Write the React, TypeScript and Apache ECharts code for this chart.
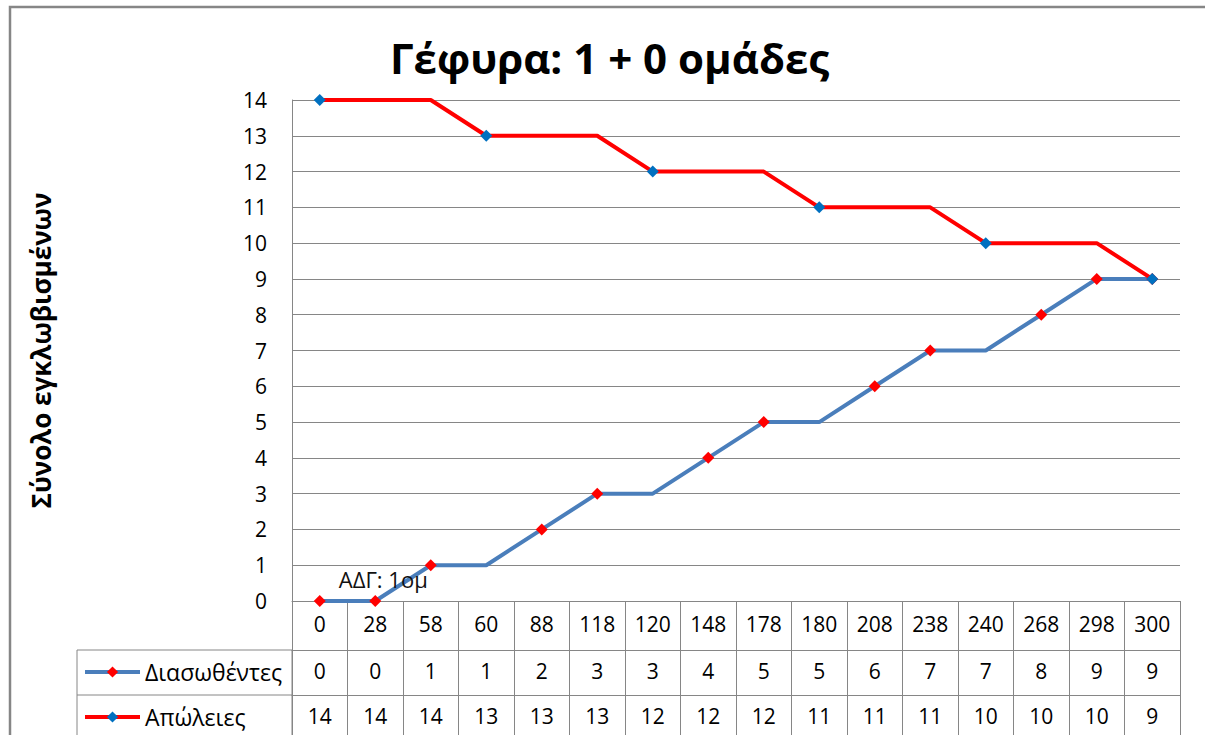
import React, { useEffect, useRef } from "react";
import * as echarts from "echarts";

const titleText = "Γέφυρα: 1 + 0 ομάδες";
const yAxisTitle = "Σύνολο εγκλωβισμένων";
const timeLabels = ["0", "28", "58", "60", "88", "118", "120", "148", "178", "180", "208", "238", "240", "268", "298", "300"];
const rescuedName = "Διασωθέντες";
const lossesName = "Απώλειες";
const rescued = [0, 0, 1, 1, 2, 3, 3, 4, 5, 5, 6, 7, 7, 8, 9, 9];
const losses = [14, 14, 14, 13, 13, 13, 12, 12, 12, 11, 11, 11, 10, 10, 10, 9];
// indices of points that carry a marker in the original
const rescuedMarked = [0, 1, 2, 4, 5, 7, 8, 10, 11, 13, 14, 15];
const lossesMarked = [0, 3, 6, 9, 12, 15];
const annotationIndex = 1;
const annotationText = "ΑΔΓ: 1ομ";
const yTicks = { min: 0, max: 14, interval: 1 };

const FONT = "'Open Sans', 'Noto Sans', sans-serif";
const GRAY = "#868686";

export default function App() {
  const ref = useRef<HTMLDivElement>(null);
  useEffect(() => {
    if (!ref.current) return;
    const chart = echarts.init(ref.current, undefined, { renderer: "svg" });

    const gridLeft = 292;
    const gridRight = 1180;
    const gridTop = 100;
    const gridBottom = 601;
    const row1 = 49;
    const row2 = 45;

    const rescuedData = rescued.map((v, i) => {
      const item: any = { value: v };
      if (!rescuedMarked.includes(i)) item.symbol = "none";
      if (i === annotationIndex) {
        item.label = {
          show: true,
          formatter: annotationText,
          position: "top",
          distance: 5,
          offset: [8, 0],
          fontSize: 22,
          fontFamily: FONT,
          color: "#111",
        };
      }
      return item;
    });
    const lossesData = losses.map((v, i) => {
      const item: any = { value: v };
      if (!lossesMarked.includes(i)) item.symbol = "none";
      return item;
    });

    const tableAxis = (offset: number, tickLen: number, margin: number, values: number[] | null) => ({
      type: "category",
      gridIndex: 0,
      position: "bottom",
      offset,
      data: timeLabels,
      boundaryGap: true,
      axisLine: { show: true, lineStyle: { color: GRAY, width: 1 } },
      axisTick: { show: true, length: tickLen, interval: 0, alignWithLabel: false, lineStyle: { color: GRAY, width: 1 } },
      axisLabel: {
        show: true,
        interval: 0,
        margin,
        fontSize: 21,
        fontFamily: FONT,
        color: "#000",
        formatter: values ? (_v: string, idx: number) => String(values[idx]) : undefined,
      },
      splitLine: { show: false },
    });

    chart.setOption({
      animation: false,
      backgroundColor: "#fff",
      title: {
        text: titleText,
        left: 390,
        top: 36,
        padding: 0,
        textStyle: { fontSize: 42, fontWeight: "bold", fontFamily: FONT, color: "#000" },
      },
      legend: {
        orient: "vertical",
        left: 83,
        top: 660,
        height: 140,
        padding: 0,
        itemWidth: 55,
        itemHeight: 14,
        itemGap: 21,
        lineStyle: { width: 4 },
        textStyle: { fontSize: 23, lineHeight: 24, fontFamily: FONT, color: "#000" },
        data: [rescuedName, lossesName],
      },
      grid: {
        left: gridLeft,
        right: 1205 - gridRight,
        top: gridTop,
        bottom: 735 - gridBottom,
        containLabel: false,
      },
      xAxis: [
        tableAxis(0, row1, 12, null),
        tableAxis(row1, row2, 10, rescued),
        tableAxis(row1 + row2, row2 + 10, 10, losses),
      ],
      yAxis: {
        type: "value",
        min: yTicks.min,
        max: yTicks.max,
        interval: yTicks.interval,
        name: yAxisTitle,
        nameLocation: "middle",
        nameRotate: 90,
        nameGap: 238,
        nameTextStyle: { fontSize: 26, fontWeight: "bold", fontFamily: FONT, color: "#000" },
        axisLine: { show: true, lineStyle: { color: GRAY, width: 1 } },
        axisTick: { show: false },
        axisLabel: { margin: 25, fontSize: 21, fontFamily: FONT, color: "#000" },
        splitLine: { show: true, lineStyle: { color: GRAY, width: 1 } },
      },
      graphic: [
        {
          type: "rect",
          shape: { x: 10, y: 7, width: 1230, height: 780 },
          style: { fill: "none", stroke: GRAY, lineWidth: 2.5 },
          silent: true,
          z: 0,
        },
        {
          type: "rect",
          shape: { x: 77, y: gridBottom + row1, width: gridLeft - 77, height: 120 },
          style: { fill: "none", stroke: GRAY, lineWidth: 1 },
          silent: true,
        },
        {
          type: "line",
          shape: { x1: 77, y1: gridBottom + row1 + row2, x2: gridLeft, y2: gridBottom + row1 + row2 },
          style: { stroke: GRAY, lineWidth: 1 },
          silent: true,
        },
      ],
      series: [
        {
          name: rescuedName,
          type: "line",
          xAxisIndex: 0,
          data: rescuedData,
          symbol: "diamond",
          symbolSize: 12,
          lineStyle: { color: "#4a7ebb", width: 4 },
          itemStyle: { color: "#ff0000" },
          z: 2,
        },
        {
          name: lossesName,
          type: "line",
          xAxisIndex: 0,
          data: lossesData,
          symbol: "diamond",
          symbolSize: 12,
          lineStyle: { color: "#ff0000", width: 4 },
          itemStyle: { color: "#0070c0" },
          z: 3,
        },
      ],
    });
    return () => chart.dispose();
  }, []);

  return (
    <div
      ref={ref}
      style={{ position: "fixed", left: 0, top: 0, width: 1205, height: 735 }}
    />
  );
}
